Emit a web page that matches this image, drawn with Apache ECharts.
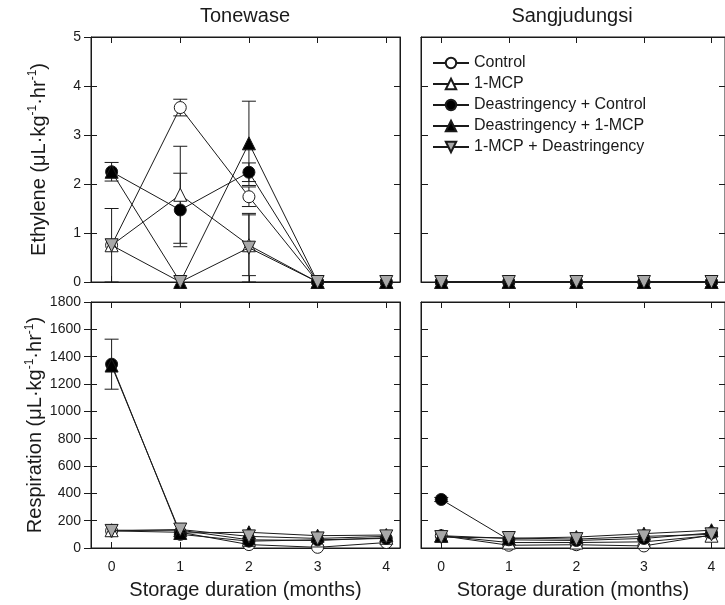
<!DOCTYPE html>
<html>
<head>
<meta charset="utf-8">
<script src="https://cdn.jsdelivr.net/npm/echarts@6/dist/echarts.min.js"></script>
<style>
html, body { margin: 0; padding: 0; background: #fff; }
#chart { width: 725px; height: 605px; }
</style>
</head>
<body>
<div id="chart"></div>
<script>
const months = [0, 1, 2, 3, 4]
const seriesNames = ['Control', '1-MCP', 'Deastringency + Control', 'Deastringency + 1-MCP', '1-MCP + Deastringency']
const panelTitles = ['Tonewase', 'Sangjudungsi']

// ethylene, Tonewase
const ethToneControl = [0.75, 3.56, 1.74, 0, 0]
const ethToneMcp = [0.75, 1.78, 0.75, 0, 0]
const ethToneDeaCtrl = [2.25, 1.47, 2.24, 0, 0]
const ethToneDeaMcp = [2.25, 0, 2.83, 0, 0]
const ethToneMcpDea = [0.75, 0, 0.7, 0, 0]
const ethToneControlErr = [0.75, 0.17, 0.2, 0, 0]
const ethToneMcpErr = [0, 0.99, 0.62, 0, 0]
const ethToneDeaCtrlErr = [0.19, 0.75, 0.19, 0, 0]
const ethToneDeaMcpErr = [0, 0, 0.86, 0, 0]
const ethToneMcpDeaErr = [0, 0, 0.7, 0, 0]

// ethylene, Sangjudungsi
const ethSangControl = [0, 0, 0, 0, 0]
const ethSangMcp = [0, 0, 0, 0, 0]
const ethSangDeaCtrl = [0, 0, 0, 0, 0]
const ethSangDeaMcp = [0, 0, 0, 0, 0]
const ethSangMcpDea = [0, 0, 0, 0, 0]

// respiration, Tonewase
const resToneControl = [125, 115, 25, 5, 40]
const resToneMcp = [130, 130, 60, 55, 75]
const resToneDeaCtrl = [1345, 100, 50, 60, 70]
const resToneDeaMcp = [1335, 110, 115, 90, 95]
const resToneMcpDea = [125, 135, 85, 70, 85]
const resToneDeaCtrlErr = [183, 0, 0, 0, 0]

// respiration, Sangjudungsi
const resSangControl = [90, 20, 24, 15, 95]
const resSangMcp = [90, 40, 40, 45, 90]
const resSangDeaCtrl = [355, 60, 55, 70, 110]
const resSangDeaMcp = [90, 70, 80, 105, 130]
const resSangMcpDea = [80, 73, 65, 85, 100]
const resSangDeaCtrlErr = [15, 0, 0, 0, 0]

const FONT = '"Liberation Sans", Arial, sans-serif'
const INK = '#1a1a1a'
const downTri = 'path://M0,0L10,0L5,9Z'

const marks = [
	{ symbol: 'circle', size: 12, fill: '#ffffff' },
	{ symbol: 'triangle', size: 13, fill: '#ffffff' },
	{ symbol: 'circle', size: 12, fill: '#000000' },
	{ symbol: 'triangle', size: 13, fill: '#000000' },
	{ symbol: downTri, size: 13, fill: '#a8a8a8' },
]

const unitRich = {
	n: { fontSize: 20, fontFamily: FONT, color: INK, lineHeight: 24 },
	s: { fontSize: 12, fontFamily: FONT, color: INK, lineHeight: 12, verticalAlign: 'top' },
}
const ethName = '{n|Ethylene (μL·kg}{s|-1}{n|·hr}{s|-1}{n|)}'
const resName = '{n|Respiration (μL·kg}{s|-1}{n|·hr}{s|-1}{n|)}'

const zeros = [0, 0, 0, 0, 0]
const panels = [
	{
		grid: { left: 91, top: 37, width: 309, height: 245 },
		yMax: 5, yInterval: 1, yName: ethName, showY: true, showX: false,
		values: [ethToneControl, ethToneMcp, ethToneDeaCtrl, ethToneDeaMcp, ethToneMcpDea],
		errs: [ethToneControlErr, ethToneMcpErr, ethToneDeaCtrlErr, ethToneDeaMcpErr, ethToneMcpDeaErr],
	},
	{
		grid: { left: 421, top: 37, right: -6, height: 245 },
		yMax: 5, yInterval: 1, yName: '', showY: false, showX: false,
		values: [ethSangControl, ethSangMcp, ethSangDeaCtrl, ethSangDeaMcp, ethSangMcpDea],
		errs: [zeros, zeros, zeros, zeros, zeros],
	},
	{
		grid: { left: 91, top: 302, width: 309, height: 246 },
		yMax: 1800, yInterval: 200, yName: resName, showY: true, showX: true,
		values: [resToneControl, resToneMcp, resToneDeaCtrl, resToneDeaMcp, resToneMcpDea],
		errs: [zeros, zeros, resToneDeaCtrlErr, zeros, zeros],
	},
	{
		grid: { left: 421, top: 302, right: -6, height: 246 },
		yMax: 1800, yInterval: 200, yName: '', showY: false, showX: true,
		values: [resSangControl, resSangMcp, resSangDeaCtrl, resSangDeaMcp, resSangMcpDea],
		errs: [zeros, zeros, resSangDeaCtrlErr, zeros, zeros],
	},
]

const grids = []
const xAxes = []
const yAxes = []
const series = []

panels.forEach((p, gi) => {
	grids.push(Object.assign({ show: true, borderColor: INK, borderWidth: 1, backgroundColor: 'transparent' }, p.grid))

	const xBase = {
		gridIndex: gi, type: 'value', min: -0.3, max: 4.2,
		axisLine: { show: true, onZero: false, lineStyle: { color: INK, width: 1 } },
		axisTick: { show: true, inside: true, length: 6, customValues: months, lineStyle: { color: INK } },
		splitLine: { show: false },
	}
	const xi = xAxes.length
	xAxes.push(Object.assign({}, xBase, {
		position: 'bottom',
		axisLabel: { show: p.showX, customValues: months, margin: 12, fontSize: 14, fontFamily: FONT, color: INK },
		name: p.showX ? 'Storage duration (months)' : '',
		nameLocation: 'middle', nameGap: 32,
		nameTextStyle: { fontSize: 20, fontFamily: FONT, color: INK },
	}))
	xAxes.push(Object.assign({}, xBase, { position: 'top', axisLabel: { show: false } }))

	const yBase = {
		gridIndex: gi, type: 'value', min: 0, max: p.yMax, interval: p.yInterval,
		axisLine: { show: true, onZero: false, lineStyle: { color: INK, width: 1 } },
		splitLine: { show: false },
	}
	const yi = yAxes.length
	yAxes.push(Object.assign({}, yBase, {
		position: 'left',
		axisTick: { show: true, inside: !p.showY, length: 7, lineStyle: { color: INK } },
		axisLabel: { show: p.showY, margin: 10, fontSize: 14, fontFamily: FONT, color: INK, formatter: v => String(v) },
		name: p.yName, nameLocation: 'middle', nameGap: 40,
		nameTextStyle: { rich: unitRich },
	}))
	yAxes.push(Object.assign({}, yBase, {
		position: 'left', axisLine: { show: false, onZero: false },
		axisTick: { show: p.showY, inside: true, length: 6, lineStyle: { color: INK } },
		axisLabel: { show: false },
	}))
	yAxes.push(Object.assign({}, yBase, {
		position: 'right',
		axisTick: { show: true, inside: true, length: 6, lineStyle: { color: INK } },
		axisLabel: { show: false },
	}))

	// error bars
	p.values.forEach((vals, si) => {
		const errData = []
		months.forEach((m, i) => {
			if (p.errs[si][i] > 0) errData.push([m, vals[i], p.errs[si][i]])
		})
		if (!errData.length) return
		series.push({
			type: 'custom',
			xAxisIndex: xi,
			yAxisIndex: yi,
			z: 1,
			silent: true,
			data: errData,
			renderItem: (params, api) => {
				const x = api.value(0)
				const v = api.value(1)
				const e = api.value(2)
				const hi = api.coord([x, v + e])
				const lo = api.coord([x, Math.max(0, v - e)])
				const w = 7
				const st = { stroke: INK, lineWidth: 1 }
				return {
					type: 'group',
					children: [
						{ type: 'line', shape: { x1: hi[0], y1: hi[1], x2: lo[0], y2: lo[1] }, style: st },
						{ type: 'line', shape: { x1: hi[0] - w, y1: hi[1], x2: hi[0] + w, y2: hi[1] }, style: st },
						{ type: 'line', shape: { x1: lo[0] - w, y1: lo[1], x2: lo[0] + w, y2: lo[1] }, style: st },
					],
				}
			},
		})
	})

	p.values.forEach((vals, si) => {
		const mk = marks[si]
		series.push({
			name: seriesNames[si],
			type: 'line',
			xAxisIndex: xi,
			yAxisIndex: yi,
			data: months.map((m, i) => [m, vals[i]]),
			symbol: mk.symbol,
			symbolSize: mk.size,
			showAllSymbol: true,
			clip: false,
			z: 2 + si,
			lineStyle: { color: INK, width: 1 },
			itemStyle: { color: mk.fill, borderColor: INK, borderWidth: 1, opacity: 1 },
			emphasis: { disabled: true },
		})
	})
})

const option = {
	animation: false,
	backgroundColor: '#ffffff',
	textStyle: { fontFamily: FONT },
	grid: grids,
	xAxis: xAxes,
	yAxis: yAxes,
	legend: {
		orient: 'vertical',
		left: 427,
		top: 50,
		itemWidth: 36,
		itemHeight: 13,
		itemGap: 5,
		data: seriesNames,
		textStyle: { fontSize: 16, fontFamily: FONT, color: INK, lineHeight: 16 },
	},
	graphic: [
		{ type: 'text', x: 245, y: 16, style: { text: panelTitles[0], fontSize: 20, fontFamily: FONT, fill: INK, textAlign: 'center', textVerticalAlign: 'middle' } },
		{ type: 'text', x: 572, y: 16, style: { text: panelTitles[1], fontSize: 20, fontFamily: FONT, fill: INK, textAlign: 'center', textVerticalAlign: 'middle' } },
	],
	series: series,
}

const myChart = echarts.init(document.getElementById('chart'), null, { renderer: 'canvas' })
myChart.setOption(option)
</script>
</body>
</html>
